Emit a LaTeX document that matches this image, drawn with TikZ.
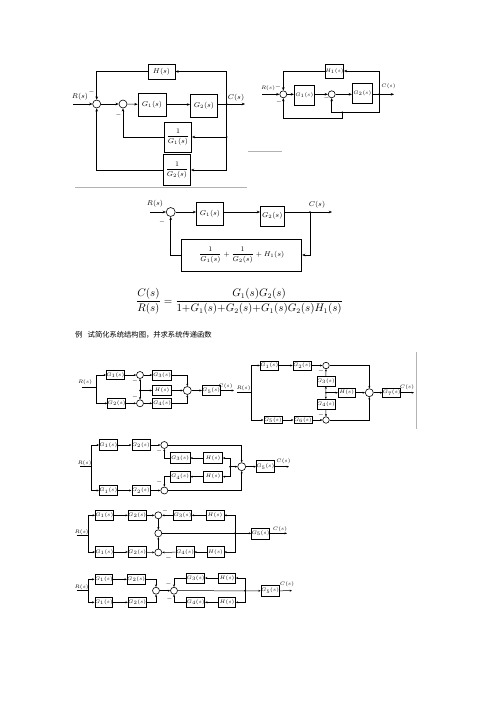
\documentclass[tikz,border=0pt]{standalone}
\usepackage{fontspec}
\usepackage{amsmath}
\newfontfamily\cjk{Noto Sans CJK SC}
\usetikzlibrary{arrows.meta}
\tikzset{
 blkA/.style={draw, line width=0.9pt, inner sep=0pt, font=\fontsize{7}{8}\selectfont},
 blkB/.style={draw, line width=0.7pt, inner sep=0pt, font=\fontsize{5}{6}\selectfont},
 blkS/.style={draw, line width=0.6pt, inner sep=0pt, font=\fontsize{4.3}{5}\selectfont},
 sumc/.style={draw, circle, line width=0.6pt, inner sep=0pt, fill=white},
 wire/.style={line width=0.6pt},
 arr/.style={wire, -{Stealth[length=3.2pt,width=2.6pt]}},
 arrS/.style={line width=0.5pt, -{Stealth[length=2.4pt,width=2pt]}},
 wireS/.style={line width=0.5pt},
 lbl/.style={font=\fontsize{7}{8}\selectfont, inner sep=0pt},
 lblB/.style={font=\fontsize{5.5}{6}\selectfont, inner sep=0pt},
 lblS/.style={font=\fontsize{5}{6}\selectfont, inner sep=0pt},
 dot/.style={circle, fill, inner sep=0pt, minimum size=1.8pt},
 sgn/.style={font=\fontsize{6}{6}\selectfont, inner sep=0pt},
 rule/.style={line width=0.5pt, gray!60},
}
\begin{document}
\begin{tikzpicture}[x=1pt,y=-1pt]
\fill[white] (0,0) rectangle (496,702);
\useasboundingbox (0,0) rectangle (496,702);

% ---------------- Diagram A ----------------
\coordinate (aIn) at (73,104);
\node[sumc, minimum size=8] (a1) at (96.7,104) {};
\node[sumc, minimum size=8] (a2) at (123,104) {};
\node[blkA, minimum width=28, minimum height=23] (aG1) at (152,104.5) {$G_1(s)$};
\node[blkA, minimum width=27, minimum height=23] (aG2) at (204,106) {$G_2(s)$};
\node[blkA, minimum width=27, minimum height=15] (aH) at (161.5,71.5) {$H(s)$};
\node[blkA, minimum width=27, minimum height=30] (aF1) at (178,137) {$\dfrac{1}{G_1(s)}$};
\node[blkA, minimum width=27, minimum height=31] (aF2) at (177,170) {$\dfrac{1}{G_2(s)}$};
\node[dot] (aB) at (226.7,104) {};
\node[dot] (aB2) at (226.7,137) {};
\coordinate (aOut) at (245,104);
\node[lbl] (aR) at (80,97) {$R(s)$};
\node[lbl] (aC) at (236,97.5) {$C(s)$};
\node[sgn] (am1) at (91.5,92) {$-$};
\node[sgn] (am2) at (118.5,115) {$-$};
\draw[arr] (aIn) -- (a1);
\draw[arr] (a1) -- (a2);
\draw[arr] (a2) -- (aG1);
\draw[arr] (aG1.east) -- (aG2.west |- aG1.east);
\draw[arr] (aG2.east |- aB) -- (aOut);
\draw[arr] (aB.center) |- (aH.east);
\draw[arr] (aH.west) -| (a1.north);
\draw[arr] (aB2.center) -- (aF1.east);
\draw[arr] (aF1.west) -| (a2.south);
\draw[arr] (aB.center) |- (aF2.east);
\draw[arr] (aF2.west) -| (a1.south);
\draw[rule] (75,187) -- (247,187);
\draw[rule] (248,151) -- (282,151);

% ---------------- Diagram B ----------------
\coordinate (bIn) at (262,94.3);
\node[sumc, minimum size=7] (b1) at (283.3,94.3) {};
\node[blkB, minimum width=20, minimum height=20] (bG1) at (304.3,95) {$G_1(s)$};
\node[sumc, minimum size=7] (b2) at (331.7,94.3) {};
\node[blkB, minimum width=20, minimum height=20] (bG2) at (362.3,93.3) {$G_2(s)$};
\node[blkB, minimum width=16, minimum height=14] (bH) at (334.5,71) {$H_1(s)$};
\node[dot] (bB) at (379,94.3) {};
\coordinate (bOut) at (394,94.3);
\coordinate (bL1) at (379,112.3);
\node[dot] (bJ) at (342.3,112.3) {};
\coordinate (bL2) at (342.3,118);
\node[lblB] (bR) at (268,88.3) {$R(s)$};
\node[lblB] (bC) at (388.5,86.7) {$C(s)$};
\node[sgn] (bm1) at (278,87) {$-$};
\node[sgn] (bm2) at (279,102) {$-$};
\node[sgn] (bm3) at (326.5,98) {$-$};
\draw[arr] (bIn) -- (b1);
\draw[arr] (b1) -- (bG1.west |- b1);
\draw[arr] (bG1.east |- b2) -- (b2);
\draw[arr] (b2) -- (bG2.west |- b2);
\draw[arr] (bG2.east |- bB) -- (bOut);
\draw[arr] (bB.center) |- (bH.east);
\draw[arr] (bH.west) -| (b1.north);
\draw[arr] (bB.center) -- (bL1) -| (b2.south);
\draw[arr] (bJ.center) -- (bL2) -| (b1.south);

% ---------------- Diagram C ----------------
\coordinate (cIn) at (150,212);
\node[sumc, minimum size=9] (c1) at (170.7,212) {};
\node[blkA, minimum width=27, minimum height=23] (cG1) at (210,214) {$G_1(s)$};
\node[blkA, line width=0.6pt, minimum width=24, minimum height=20] (cG2) at (272.3,216) {$G_2(s)$};
\node[blkA, minimum width=120, minimum height=32] (cF) at (241.7,255) {$\dfrac{1}{G_1(s)}+\dfrac{1}{G_2(s)}+H_1(s)$};
\node[dot] (cB) at (310,212) {};
\coordinate (cOut) at (332,212);
\node[lbl] (cR) at (155,203.3) {$R(s)$};
\node[lbl] (cC) at (317,204.5) {$C(s)$};
\node[sgn] (cm1) at (162,222) {$-$};
\draw[arr] (cIn) -- (c1);
\draw[arr] (c1) -- (cG1.west |- c1);
\draw[arr] (cG1.east |- c1) -- (cG2.west |- c1);
\draw[arr] (cG2.east |- c1) -- (cOut);
\draw[arr] (cB.center) |- (cF.east);
\draw[arr] (cF.west) -| (c1.south);

% ---------------- Formula and caption ----------------
\node[font=\fontsize{10.6}{13}\selectfont, inner sep=0pt] (frm) at (239.5,301.5)
 {$\displaystyle\frac{C(s)}{R(s)}=\frac{G_1(s)G_2(s)}{1{+}G_1(s){+}G_2(s){+}G_1(s)G_2(s)H_1(s)}$};
\node[anchor=west, font=\cjk\fontsize{7.3}{9}\selectfont, inner sep=0pt] (cap0) at (75,335) {例};
\node[anchor=west, font=\cjk\fontsize{7.3}{9}\selectfont, inner sep=0pt] (cap) at (87.5,335) {试简化系统结构图，并求系统传递函数};

% ---------------- Diagram D ----------------
\coordinate (dIn) at (81.7,387.5);
\coordinate (dB) at (96,387.5);
\node[blkS, minimum width=16, minimum height=9] (dG1) at (115.3,375) {$G_1(s)$};
\node[sumc, minimum size=7] (dS1) at (140,375) {};
\node[blkS, minimum width=19, minimum height=10] (dG3) at (162,375) {$G_3(s)$};
\node[blkS, minimum width=19, minimum height=10] (dH) at (162,390.5) {$H(s)$};
\node[blkS, minimum width=17, minimum height=10] (dG2) at (116.7,403.3) {$G_2(s)$};
\node[sumc, minimum size=7] (dS2) at (140,403.3) {};
\node[blkS, minimum width=19, minimum height=10] (dG4) at (162,403.3) {$G_4(s)$};
\node[sumc, minimum size=8] (dS3) at (187.3,390.5) {};
\node[blkS, minimum width=15, minimum height=10] (dG5) at (211.2,390.5) {$G_5(s)$};
\coordinate (dOut) at (234,390.5);
\node[dot] (dJ) at (140,390.5) {};
\node[lblS] (dR) at (85,382.5) {$R(s)$};
\node[lblS] (dC) at (225.5,386.5) {$C(s)$};
\node[sgn] (dm1) at (135,381) {$-$};
\node[sgn] (dm2) at (135,397) {$-$};
\draw[wireS] (dIn) -- (dB);
\draw[arrS] (dB) |- (dG1.west);
\draw[arrS] (dB) |- (dG2.west);
\draw[arrS] (dG1) -- (dS1);
\draw[arrS] (dS1) -- (dG3);
\draw[arrS] (dG3.east) -| (dS3.north);
\draw[arrS] (dG2) -- (dS2);
\draw[arrS] (dS2) -- (dG4);
\draw[arrS] (dG4.east) -| (dS3.south);
\draw[arrS] (dH) -- (dS3);
\draw[arrS] (dJ.center) -- (dS1.south);
\draw[arrS] (dJ.center) -- (dS2.north);
\draw[arrS] (dJ.center) -- (dH.west);
\draw[arrS] (dS3) -- (dG5);
\draw[arrS] (dG5) -- (dOut);

% ---------------- Diagram E ----------------
\coordinate (eIn) at (237,392.7);
\coordinate (eB) at (251.7,392.7);
\node[blkS, minimum width=13, minimum height=9] (eG1) at (269.3,365.5) {$G_1(s)$};
\node[blkS, minimum width=16, minimum height=9] (eG2) at (302,365.5) {$G_2(s)$};
\node[sumc, minimum size=6.5] (eS1) at (326,365.5) {};
\node[blkS, minimum width=18, minimum height=9.5] (eG3) at (325.8,381.3) {$G_3(s)$};
\node[blkS, minimum width=17, minimum height=8.5] (eH) at (346.7,392.7) {$H(s)$};
\node[blkS, minimum width=18, minimum height=10] (eG4) at (325.8,404.3) {$G_4(s)$};
\node[blkS, minimum width=18, minimum height=7] (eG5) at (272.8,420) {$G_5(s)$};
\node[blkS, minimum width=18, minimum height=7] (eG6) at (302.8,420) {$G_6(s)$};
\node[sumc, minimum size=6.5] (eS2) at (326,420) {};
\node[sumc, minimum size=8] (eS3) at (369.3,392.7) {};
\node[blkS, minimum width=17, minimum height=9] (eG7) at (391.7,392.7) {$G_7(s)$};
\coordinate (eOut) at (414,392.7);
\node[dot] (eJ) at (326,392.7) {};
\node[lblS] (eR) at (243.5,388) {$R(s)$};
\node[lblS] (eC) at (407,387.3) {$C(s)$};
\node[sgn] (em1) at (321,371) {$-$};
\node[sgn] (em2) at (321,414.5) {$-$};
\draw[wireS] (eIn) -- (eB);
\draw[arrS] (eB) |- (eG1.west);
\draw[arrS] (eB) |- (eG5.west);
\draw[arrS] (eG1) -- (eG2);
\draw[arrS] (eG2) -- (eS1);
\draw[arrS] (eS1.east) -| (eS3.north);
\draw[arrS] (eG5) -- (eG6);
\draw[arrS] (eG6) -- (eS2);
\draw[arrS] (eS2.east) -| (eS3.south);
\draw[arrS] (eJ.center) -- (eG3.south);
\draw[arrS] (eG3.north) -- (eS1.south);
\draw[arrS] (eJ.center) -- (eG4.north);
\draw[arrS] (eG4.south) -- (eS2.north);
\draw[arrS] (eJ.center) -- (eH.west);
\draw[arrS] (eH) -- (eS3);
\draw[arrS] (eS3) -- (eG7);
\draw[arrS] (eG7) -- (eOut);
\draw[rule] (416,352) -- (416,429);

% ---------------- Diagram F ----------------
\coordinate (fIn) at (80,466.7);
\coordinate (fB) at (91.7,466.7);
\node[blkS, minimum width=17, minimum height=10.5] (fG1) at (108.3,445) {$G_1(s)$};
\node[blkS, minimum width=18, minimum height=10.5] (fG2) at (140.8,445) {$G_2(s)$};
\node[sumc, minimum size=7] (fS1) at (164.3,445) {};
\node[blkS, minimum width=20, minimum height=10.5] (fG3) at (180,458) {$G_3(s)$};
\node[blkS, minimum width=19, minimum height=10.5] (fH1) at (213,458) {$H(s)$};
\node[blkS, minimum width=20, minimum height=10.5] (fG4) at (180,476.7) {$G_4(s)$};
\node[blkS, minimum width=19, minimum height=10.5] (fH2) at (213,476.7) {$H(s)$};
\node[blkS, minimum width=17, minimum height=10.5] (fG5) at (108.3,490.5) {$G_1(s)$};
\node[blkS, minimum width=18, minimum height=10.5] (fG6) at (140.8,490.5) {$G_2(s)$};
\node[sumc, minimum size=7] (fS2) at (164.3,490.5) {};
\node[sumc, minimum size=8] (fS3) at (241.7,466.7) {};
\node[blkS, minimum width=17.5, minimum height=12] (fG7) at (265.3,466.7) {$G_5(s)$};
\coordinate (fOut) at (289,466.7);
\node[dot] (fJ) at (230,466.7) {};
\node[lblS] (fR) at (84.5,463) {$R(s)$};
\node[lblS] (fC) at (283.5,461.5) {$C(s)$};
\node[sgn] (fm1) at (159.3,451) {$-$};
\node[sgn] (fm2) at (159.3,482) {$-$};
\draw[wireS] (fIn) -- (fB);
\draw[arrS] (fB) |- (fG1.west);
\draw[arrS] (fB) |- (fG5.west);
\draw[arrS] (fG1) -- (fG2);
\draw[arrS] (fG2) -- (fS1);
\draw[arrS] (fS1.east) -| (fS3.north);
\draw[arrS] (fG5) -- (fG6);
\draw[arrS] (fG6) -- (fS2);
\draw[arrS] (fS2.east) -| (fS3.south);
\draw[arrS] (fJ.center) |- (fH1.east);
\draw[arrS] (fJ.center) |- (fH2.east);
\draw[arrS] (fJ.center) -- (fS3.west);
\draw[arrS] (fH1) -- (fG3);
\draw[arrS] (fH2) -- (fG4);
\draw[arrS] (fG3.west) -| (fS1.south);
\draw[arrS] (fG4.west) -| (fS2.north);
\draw[arrS] (fS3) -- (fG7);
\draw[arrS] (fG7) -- (fOut);

% ---------------- Diagram G ----------------
\coordinate (gIn) at (76.7,535);
\coordinate (gB) at (88.3,535);
\node[blkS, minimum width=17, minimum height=10.5] (gG1) at (104.3,515.3) {$G_1(s)$};
\node[blkS, minimum width=18, minimum height=10.5] (gG2) at (137.2,515.3) {$G_2(s)$};
\node[sumc, minimum size=7] (gS1) at (158.3,515.3) {};
\node[blkS, minimum width=18, minimum height=10.5] (gG3) at (182.5,515.3) {$G_3(s)$};
\node[blkS, minimum width=18, minimum height=10.5] (gH1) at (215,515.3) {$H(s)$};
\node[sumc, minimum size=7] (gS2) at (158.3,533.3) {};
\node[blkS, minimum width=17, minimum height=10.5] (gG4) at (104.3,552) {$G_1(s)$};
\node[blkS, minimum width=18, minimum height=10.5] (gG5) at (137.2,552) {$G_2(s)$};
\node[sumc, minimum size=7] (gS3) at (158.3,552.5) {};
\node[blkS, minimum width=18, minimum height=10.5] (gG6) at (185,552) {$G_4(s)$};
\node[blkS, minimum width=17, minimum height=10.5] (gH2) at (215.5,552) {$H(s)$};
\node[dot] (gJ) at (235,533.3) {};
\node[blkS, minimum width=17.5, minimum height=11] (gG7) at (260.5,533.3) {$G_5(s)$};
\coordinate (gOut) at (287,533.3);
\node[lblS] (gR) at (81.7,532) {$R(s)$};
\node[lblS] (gC) at (280,529.3) {$C(s)$};
\node[sgn] (gm1) at (165,511) {$-$};
\node[sgn, font=\fontsize{7}{7}\selectfont] (gm2) at (168.5,557.5) {$-$};
\draw[wireS] (gIn) -- (gB);
\draw[arrS] (gB) |- (gG1.west);
\draw[arrS] (gB) |- (gG4.west);
\draw[arrS] (gG1) -- (gG2);
\draw[arrS] (gG2) -- (gS1);
\draw[arrS] (gG4) -- (gG5);
\draw[arrS] (gG5) -- (gS3);
\draw[arrS] (gH1) -- (gG3);
\draw[arrS] (gG3) -- (gS1);
\draw[arrS] (gH2) -- (gG6);
\draw[arrS] (gG6) -- (gS3);
\draw[arrS] (gS1) -- (gS2);
\draw[arrS] (gS3) -- (gS2);
\draw[arrS] (gS2) -- (gG7);
\draw[arrS] (gJ.center) |- (gH1.east);
\draw[arrS] (gJ.center) |- (gH2.east);
\draw[arrS] (gG7) -- (gOut);

% ---------------- Diagram H ----------------
\coordinate (hIn) at (76.7,590.7);
\coordinate (hB) at (88.3,590.7);
\node[blkS, minimum width=16, minimum height=9.5] (hG1) at (103.8,579.3) {$G_1(s)$};
\node[blkS, minimum width=17.5, minimum height=9.5] (hG2) at (136.2,579.3) {$G_2(s)$};
\node[blkS, minimum width=16, minimum height=9.5] (hG3) at (103.8,602.3) {$G_1(s)$};
\node[blkS, minimum width=17.5, minimum height=9.5] (hG4) at (137.2,602.3) {$G_2(s)$};
\node[sumc, minimum size=7] (hS1) at (156,590.7) {};
\node[sumc, minimum size=7] (hS2) at (174,590.7) {};
\node[blkS, minimum width=17, minimum height=10] (hG5) at (195.7,578) {$G_3(s)$};
\node[blkS, minimum width=17, minimum height=10] (hH1) at (227,578) {$H(s)$};
\node[blkS, minimum width=17, minimum height=10] (hG6) at (195.7,602.3) {$G_4(s)$};
\node[blkS, minimum width=17, minimum height=10] (hH2) at (227,602.3) {$H(s)$};
\node[dot] (hJ) at (245,590.7) {};
\node[blkS, minimum width=16.5, minimum height=11] (hG7) at (270,590.8) {$G_5(s)$};
\coordinate (hOut) at (292,590.7);
\node[lblS] (hR) at (81.7,587.5) {$R(s)$};
\node[lblS] (hC) at (287,584.7) {$C(s)$};
\node[sgn] (hm1) at (168.5,583.5) {$-$};
\node[sgn] (hm2) at (169.5,598.5) {$-$};
\draw[wireS] (hIn) -- (hB);
\draw[arrS] (hB) |- (hG1.west);
\draw[arrS] (hB) |- (hG3.west);
\draw[arrS] (hG1) -- (hG2);
\draw[arrS] (hG3) -- (hG4);
\draw[arrS] (hG2.east) -| (hS1.north);
\draw[arrS] (hG4.east) -| (hS1.south);
\draw[arrS] (hS1) -- (hS2);
\draw[arrS] (hS2) -- (hG7);
\draw[arrS] (hG7) -- (hOut);
\draw[arrS] (hJ.center) |- (hH1.east);
\draw[arrS] (hJ.center) |- (hH2.east);
\draw[arrS] (hH1) -- (hG5);
\draw[arrS] (hH2) -- (hG6);
\draw[arrS] (hG5.west) -| (hS2.north);
\draw[arrS] (hG6.west) -| (hS2.south);
\end{tikzpicture}
\end{document}
